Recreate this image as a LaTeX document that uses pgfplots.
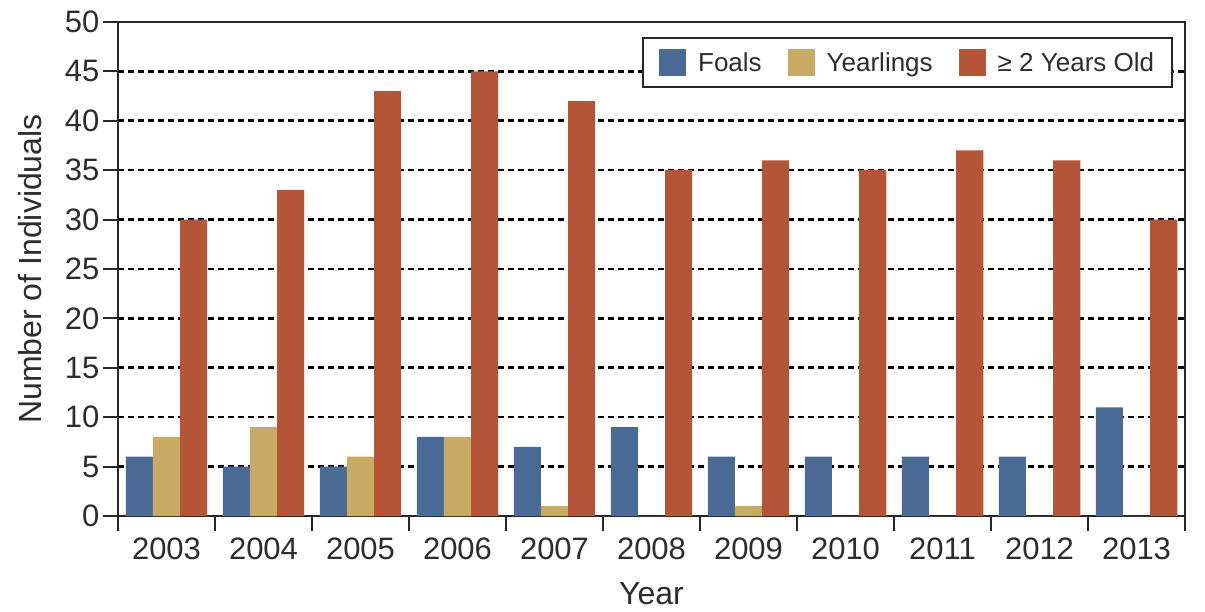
\documentclass[border=0pt]{standalone}
\usepackage{fontspec}
\setmainfont{Liberation Sans}
\usepackage{pgfplots}
\pgfplotsset{compat=1.18}
\definecolor{cBlue}{RGB}{74,106,150}
\definecolor{cTan}{RGB}{201,170,100}
\definecolor{cRed}{RGB}{180,85,55}
\definecolor{cTxt}{RGB}{45,45,45}
\newcommand\fs[1]{\fontsize{#1}{#1}\selectfont}
\begin{document}
\begin{tikzpicture}
\begin{axis}[
  scale only axis, width=1067pt, height=494pt,
  xmin=-0.5, xmax=10.5, ymin=0, ymax=50,
  ybar, bar width=0.28,
  ytick={0,5,...,50},
  xtick={-0.5,0.5,1.5,2.5,3.5,4.5,5.5,6.5,7.5,8.5,9.5,10.5},
  x tick label as interval,
  xticklabels={2003,2004,2005,2006,2007,2008,2009,2010,2011,2012,2013},
  tick pos=left,
  tick align=outside,
  major tick length=15pt,
  every tick/.style={line width=2pt, draw=black!85},
  axis line style={line width=2pt, draw=black!85},
  ymajorgrids,
  major grid style={black, line width=2.6pt, dash pattern=on 6pt off 4pt},
  /pgf/number format/assume math mode=true,
  ticklabel style={font=\fs{31}, text=cTxt},
  xticklabel style={yshift=-3pt},
  xlabel={Year}, ylabel={Number of Individuals},
  every axis x label/.style={at={(rel axis cs:0.5,0)}, anchor=center, yshift=-78pt, font=\fs{32}, text=cTxt},
  every axis y label/.style={at={([xshift=-88pt]rel axis cs:0,0.5)}, rotate=90, anchor=center, font=\fs{32}, text=cTxt},
  legend columns=3,
  legend image code/.code={\fill[#1] (0pt,-13.5pt) rectangle (27pt,13.5pt);},
  legend style={at={(rel axis cs:1,1)}, anchor=north east, xshift=-12pt, yshift=-15pt,
    draw=black!85, line width=1.8pt, fill=white, font=\fs{26}, text=cTxt,
    inner xsep=16pt, inner ysep=11pt,
    nodes={inner sep=2pt},
    column sep=10pt,
    /tikz/every even column/.append style={column sep=24pt}},
]
\addplot[fill=cBlue, draw=none, bar shift=-0.28] coordinates {(0,6) (1,5) (2,5) (3,8) (4,7) (5,9) (6,6) (7,6) (8,6) (9,6) (10,11)};
\addplot[fill=cTan, draw=none, bar shift=0] coordinates {(0,8) (1,9) (2,6) (3,8) (4,1) (5,0) (6,1) (7,0) (8,0) (9,0) (10,0)};
\addplot[fill=cRed, draw=none, bar shift=0.28] coordinates {(0,30) (1,33) (2,43) (3,45) (4,42) (5,35) (6,36) (7,35) (8,37) (9,36) (10,30)};
\legend{Foals, Yearlings, ≥ 2 Years Old}
\coordinate (ll) at (rel axis cs:0,0);
\coordinate (ur) at (rel axis cs:1,1);
\pgfplotsinvokeforeach{0,...,10}{\coordinate (t#1) at (rel axis cs:0,#1/10);}
\node[rotate=90, anchor=center, font=\fs{13}, text=black!65] at ([shift={(12pt,36pt)}]rel axis cs:1,0) {04140001};
\end{axis}
\foreach \i in {0,...,10}
  \draw[line width=2pt, draw=black!85] (t\i) -- ++(-15pt,0);
\pgfresetboundingbox
\path[use as bounding box] ([shift={(-118pt,-95pt)}]ll) rectangle ([shift={(20pt,22pt)}]ur);
\end{tikzpicture}
\end{document}
